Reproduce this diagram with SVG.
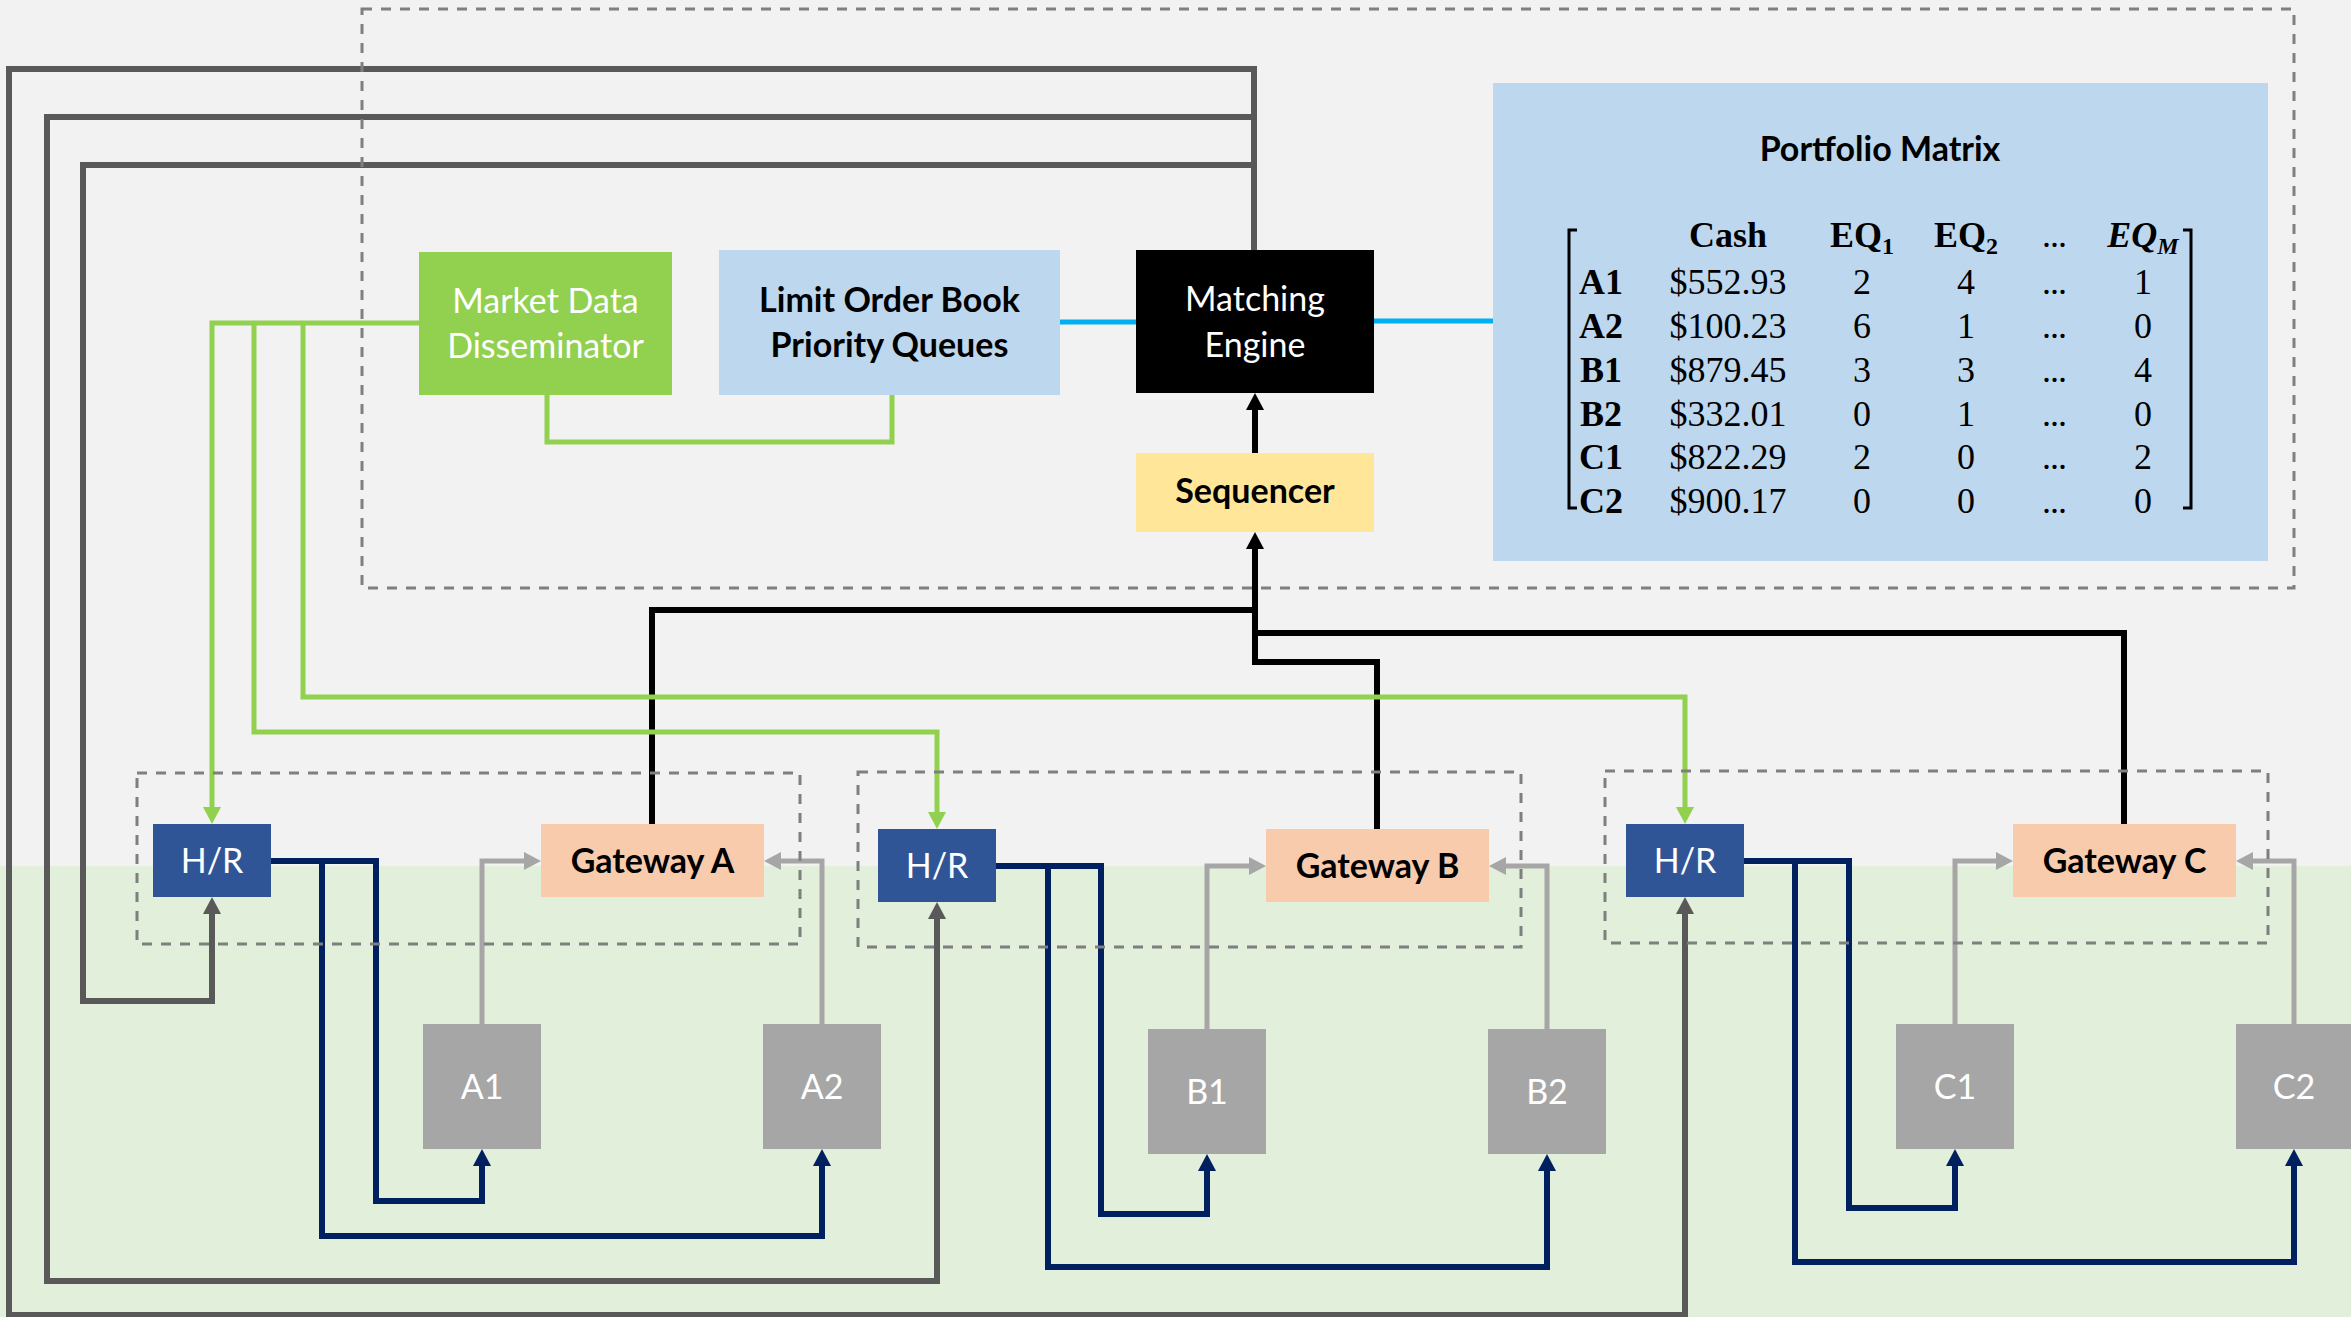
<svg xmlns="http://www.w3.org/2000/svg" width="2351" height="1317" viewBox="0 0 2351 1317">
<style>
.t{font-family:Lato,"Liberation Sans",sans-serif;font-size:34px;text-anchor:middle}
.w{fill:#ffffff}
.b{fill:#000000;font-weight:bold}
.m{font-family:"Liberation Serif","DejaVu Serif",serif;font-size:36px;text-anchor:middle;fill:#000}
.mb{font-weight:bold}
.d{letter-spacing:-1px}
.c{fill:none;stroke-linejoin:miter;stroke-linecap:butt}
.dg{stroke:#595959;stroke-width:6}
.bk{stroke:#000;stroke-width:6}
.gr{stroke:#92d050;stroke-width:5}
.nv{stroke:#002060;stroke-width:6}
.lg{stroke:#a6a6a6;stroke-width:5}
.bl{stroke:#00b0f0;stroke-width:5}
.dash{fill:none;stroke:#7f7f7f;stroke-width:3;stroke-dasharray:10 9}
.cl{fill:#a6a6a6}
.hr{fill:#2f5597}
.gw{fill:#f8cbad}
</style>
<defs>
<marker id="aDg" viewBox="0 0 17 18" refX="0" refY="9" markerWidth="17" markerHeight="18" markerUnits="userSpaceOnUse" orient="auto"><path d="M0,0 L17,9 L0,18 z" fill="#595959"/></marker>
<marker id="aBk" viewBox="0 0 17 18" refX="0" refY="9" markerWidth="17" markerHeight="18" markerUnits="userSpaceOnUse" orient="auto"><path d="M0,0 L17,9 L0,18 z" fill="#000"/></marker>
<marker id="aGr" viewBox="0 0 17 18" refX="0" refY="9" markerWidth="17" markerHeight="18" markerUnits="userSpaceOnUse" orient="auto"><path d="M0,0 L17,9 L0,18 z" fill="#92d050"/></marker>
<marker id="aNv" viewBox="0 0 17 18" refX="0" refY="9" markerWidth="17" markerHeight="18" markerUnits="userSpaceOnUse" orient="auto"><path d="M0,0 L17,9 L0,18 z" fill="#002060"/></marker>
<marker id="aLg" viewBox="0 0 17 18" refX="0" refY="9" markerWidth="17" markerHeight="18" markerUnits="userSpaceOnUse" orient="auto"><path d="M0,0 L17,9 L0,18 z" fill="#a6a6a6"/></marker>
</defs>
<rect x="0" y="0" width="2351" height="1317" fill="#f2f2f2"/>
<rect x="0" y="866" width="2351" height="451" fill="#e2efda"/>

<g id="connectors">
<path class="c dg" d="M1254,250 V69 H9 V1315 H1685 V914" marker-end="url(#aDg)"/>
<path class="c dg" d="M1254,117 H47 V1281 H937 V919" marker-end="url(#aDg)"/>
<path class="c dg" d="M1254,165 H83 V1001 H212 V914" marker-end="url(#aDg)"/>
<path class="c bk" d="M652,824 V610 H1255"/>
<path class="c bk" d="M2124,824 V633 H1255"/>
<path class="c bk" d="M1377,829 V662 H1255 V549" marker-end="url(#aBk)"/>
<path class="c bk" d="M1255,453 V410" marker-end="url(#aBk)"/>
<path class="c gr" d="M419,323 H212 V807" marker-end="url(#aGr)"/>
<path class="c gr" d="M254,323 V732 H937 V812" marker-end="url(#aGr)"/>
<path class="c gr" d="M303,323 V697 H1685 V807" marker-end="url(#aGr)"/>
<path class="c gr" d="M547,395 V442 H892 V395"/>
<path class="c bl" d="M1060,322 H1136"/>
<path class="c bl" d="M1374,321 H1493"/>
<path class="c nv" d="M271,861 H322 V1236 H822 V1166" marker-end="url(#aNv)"/>
<path class="c nv" d="M271,861 H376 V1201 H482 V1166" marker-end="url(#aNv)"/>
<path class="c nv" d="M996,866 H1048 V1267 H1547 V1171" marker-end="url(#aNv)"/>
<path class="c nv" d="M996,866 H1101 V1214 H1207 V1171" marker-end="url(#aNv)"/>
<path class="c nv" d="M1744,861 H1795 V1262 H2294 V1166" marker-end="url(#aNv)"/>
<path class="c nv" d="M1744,861 H1849 V1208 H1955 V1166" marker-end="url(#aNv)"/>
<path class="c lg" d="M482,1024 V861 H524" marker-end="url(#aLg)"/>
<path class="c lg" d="M822,1024 V861 H781" marker-end="url(#aLg)"/>
<path class="c lg" d="M1207,1029 V866 H1249" marker-end="url(#aLg)"/>
<path class="c lg" d="M1547,1029 V866 H1506" marker-end="url(#aLg)"/>
<path class="c lg" d="M1955,1024 V861 H1996" marker-end="url(#aLg)"/>
<path class="c lg" d="M2294,1024 V861 H2253" marker-end="url(#aLg)"/>
</g>

<g id="groups">
<rect class="dash" x="362" y="9" width="1932" height="579"/>
<rect class="dash" x="137" y="773" width="663" height="171"/>
<rect class="dash" x="858" y="772" width="663" height="175"/>
<rect class="dash" x="1605" y="771" width="663" height="172"/>
</g>

<g id="mdd"><rect x="419" y="252" width="253" height="143" fill="#92d050"/>
<text class="t w" x="545.5" y="313">Market Data</text><text class="t w" x="545.5" y="358">Disseminator</text></g>
<g id="lob"><rect x="719" y="250" width="341" height="145" fill="#bdd7ee"/>
<text class="t b" x="889.5" y="312">Limit Order Book</text><text class="t b" x="889.5" y="357">Priority Queues</text></g>
<g id="me"><rect x="1136" y="250" width="238" height="143" fill="#000"/>
<text class="t w" x="1255" y="311">Matching</text><text class="t w" x="1255" y="357">Engine</text></g>
<g id="seq"><rect x="1136" y="453" width="238" height="79" fill="#ffe699"/>
<text class="t b" x="1255" y="503">Sequencer</text></g>

<g id="portfolio"><rect x="1493" y="83" width="775" height="478" fill="#bdd7ee"/>
<text class="t b" x="1880" y="161">Portfolio Matrix</text>
<path d="M1577,230 H1569 V508 H1577 M2183,230 H2191 V508 H2183" fill="none" stroke="#000" stroke-width="3"/>
<text class="m mb" x="1728" y="247">Cash</text>
<text class="m mb" x="1862" y="247">EQ<tspan font-size="24" dy="7">1</tspan></text>
<text class="m mb" x="1966" y="247">EQ<tspan font-size="24" dy="7">2</tspan></text>
<text class="m d" x="2054" y="247">...</text>
<text class="m mb" x="2143" y="247" font-style="italic">EQ<tspan font-size="24" dy="7">M</tspan></text>
<g>
<text class="m mb" x="1601" y="294">A1</text><text class="m" x="1728" y="294">$552.93</text><text class="m" x="1862" y="294">2</text><text class="m" x="1966" y="294">4</text><text class="m d" x="2054" y="294">...</text><text class="m" x="2143" y="294">1</text>
<text class="m mb" x="1601" y="338">A2</text><text class="m" x="1728" y="338">$100.23</text><text class="m" x="1862" y="338">6</text><text class="m" x="1966" y="338">1</text><text class="m d" x="2054" y="338">...</text><text class="m" x="2143" y="338">0</text>
<text class="m mb" x="1601" y="382">B1</text><text class="m" x="1728" y="382">$879.45</text><text class="m" x="1862" y="382">3</text><text class="m" x="1966" y="382">3</text><text class="m d" x="2054" y="382">...</text><text class="m" x="2143" y="382">4</text>
<text class="m mb" x="1601" y="426">B2</text><text class="m" x="1728" y="426">$332.01</text><text class="m" x="1862" y="426">0</text><text class="m" x="1966" y="426">1</text><text class="m d" x="2054" y="426">...</text><text class="m" x="2143" y="426">0</text>
<text class="m mb" x="1601" y="469">C1</text><text class="m" x="1728" y="469">$822.29</text><text class="m" x="1862" y="469">2</text><text class="m" x="1966" y="469">0</text><text class="m d" x="2054" y="469">...</text><text class="m" x="2143" y="469">2</text>
<text class="m mb" x="1601" y="513">C2</text><text class="m" x="1728" y="513">$900.17</text><text class="m" x="1862" y="513">0</text><text class="m" x="1966" y="513">0</text><text class="m d" x="2054" y="513">...</text><text class="m" x="2143" y="513">0</text>
</g>
</g>

<g id="hrA"><rect class="hr" x="153" y="824" width="118" height="73"/><text class="t w" x="212" y="873">H/R</text></g>
<g id="gwA"><rect class="gw" x="541" y="824" width="223" height="73"/><text class="t b" x="652.5" y="873">Gateway A</text></g>
<g id="hrB"><rect class="hr" x="878" y="829" width="118" height="73"/><text class="t w" x="937" y="878">H/R</text></g>
<g id="gwB"><rect class="gw" x="1266" y="829" width="223" height="73"/><text class="t b" x="1377.5" y="878">Gateway B</text></g>
<g id="hrC"><rect class="hr" x="1626" y="824" width="118" height="73"/><text class="t w" x="1685" y="873">H/R</text></g>
<g id="gwC"><rect class="gw" x="2013" y="824" width="223" height="73"/><text class="t b" x="2124.5" y="873">Gateway C</text></g>

<g id="A1"><rect class="cl" x="423" y="1024" width="118" height="125"/><text class="t w" x="482" y="1099">A1</text></g>
<g id="A2"><rect class="cl" x="763" y="1024" width="118" height="125"/><text class="t w" x="822" y="1099">A2</text></g>
<g id="B1"><rect class="cl" x="1148" y="1029" width="118" height="125"/><text class="t w" x="1207" y="1104">B1</text></g>
<g id="B2"><rect class="cl" x="1488" y="1029" width="118" height="125"/><text class="t w" x="1547" y="1104">B2</text></g>
<g id="C1"><rect class="cl" x="1896" y="1024" width="118" height="125"/><text class="t w" x="1955" y="1099">C1</text></g>
<g id="C2"><rect class="cl" x="2236" y="1024" width="118" height="125"/><text class="t w" x="2294" y="1099">C2</text></g>
</svg>
